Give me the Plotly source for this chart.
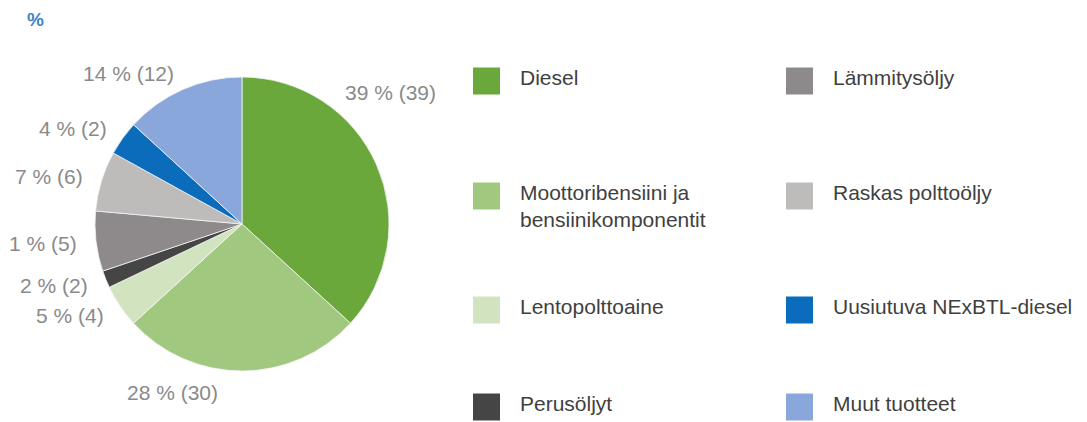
import math
import plotly.graph_objects as go

# product split, share of sales (%), previous year in brackets
products = ["Diesel", "Moottoribensiini ja<br>bensiinikomponentit", "Lentopolttoaine",
            "Perusöljyt", "Lämmitysöljy", "Raskas polttoöljy",
            "Uusiutuva NExBTL-diesel", "Muut tuotteet"]
slice_size = [39, 28, 5, 2, 7, 7, 4, 14]      # as drawn in the pie
pct_now = [39, 28, 5, 2, 1, 7, 4, 14]         # printed labels
pct_prev = [39, 30, 4, 2, 5, 6, 2, 12]
colors = ["#6aa83b", "#a1c87f", "#d2e4bf", "#454545",
          "#8e8a8b", "#bebbbb", "#0c6cbc", "#8aa7dc"]

# page is 1087x422 but the html body has an 8px margin
W, H, OFF = 1087, 422, 8
FW, FH = W - OFF, H - OFF


def px(x):
    return (x - OFF) / FW


def py(y):
    return (H - y) / FH


FONT = "Liberation Sans, Arial"
labels = [f"{a} % ({b})" for a, b in zip(pct_now, pct_prev)]

# pie geometry in page pixels
CX, CY, R = 242, 224, 147

fig = go.Figure()
fig.add_trace(go.Pie(
    values=slice_size,
    labels=products,
    textinfo="none",
    marker=dict(colors=colors, line=dict(color="#f4f4f4", width=0.8)),
    sort=False,
    direction="clockwise",
    rotation=0,
    showlegend=False,
    hoverinfo="skip",
    domain=dict(x=[px(CX - R), px(CX + R)], y=[py(CY + R), py(CY - R)]),
))

# outside labels: at the slice's mid angle, a little off the rim;
# the two big slices have their labels placed off the default spot
moved = {0: (390, 92), 1: (172, 392)}
notes = []
total = sum(slice_size)
acc = 0
for i, v in enumerate(slice_size):
    mid = 2 * math.pi * (acc + v / 2) / total
    acc += v
    lab_font = dict(family=FONT, size=21, color="#8a8a8a")
    if i in moved:
        x, y = moved[i]
        notes.append(dict(xref="paper", yref="paper", x=px(x), y=py(y),
                          xanchor="center", yanchor="middle", text=labels[i],
                          showarrow=False, font=lab_font))
        continue
    d = R + 17
    x = CX + d * math.sin(mid)
    y = CY - d * math.cos(mid)
    notes.append(dict(xref="paper", yref="paper", x=px(x), y=py(y),
                      xanchor="right" if math.sin(mid) < 0 else "left",
                      yanchor="middle", text=labels[i], showarrow=False, font=lab_font))

# legend drawn by hand: 2 columns x 4 rows, filled column by column
col_x = [473, 786]
row_y = [81, 196, 310, 407]
sw = 27
shapes = []
for i, (name, c) in enumerate(zip(products, colors)):
    cx = col_x[i // 4]
    cy = row_y[i % 4]
    shapes.append(dict(type="rect", xref="paper", yref="paper",
                       x0=px(cx), x1=px(cx + sw),
                       y0=py(cy + sw / 2), y1=py(cy - sw / 2),
                       fillcolor=c, line=dict(width=0)))
    notes.append(dict(xref="paper", yref="paper", x=px(cx + 45),
                      y=py(cy - sw / 2 - 4), xanchor="left", yanchor="top",
                      text=name, showarrow=False, align="left",
                      font=dict(family=FONT, size=21, color="#3f3f3f")))

notes.append(dict(xref="paper", yref="paper", x=px(35), y=py(19),
                  xanchor="center", yanchor="middle", text="<b>%</b>", showarrow=False,
                  font=dict(family=FONT, size=19, color="#3d84c6")))

fig.update_layout(
    width=FW, height=FH,
    margin=dict(l=0, r=0, t=0, b=0),
    paper_bgcolor="white",
    plot_bgcolor="white",
    shapes=shapes,
    annotations=notes,
)
fig.write_html("out.html")
